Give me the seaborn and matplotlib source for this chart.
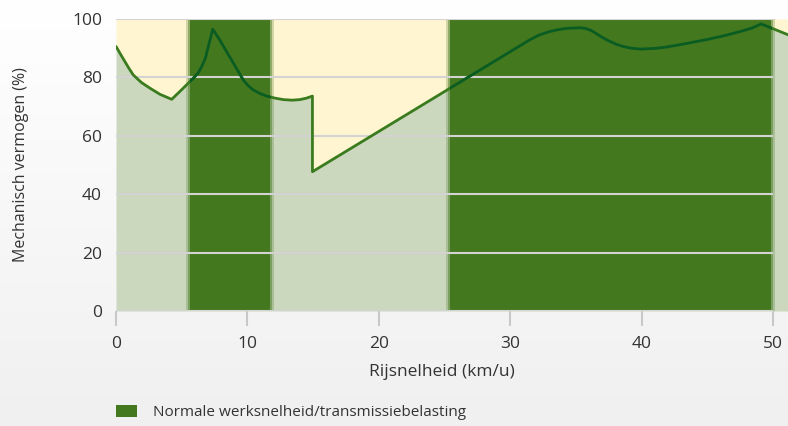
import numpy as np
import matplotlib
matplotlib.use("Agg")
import matplotlib.pyplot as plt
import seaborn as sns
from matplotlib.patches import Patch, Rectangle

# ---- data ----
speed = [0.0, 0.35, 0.68, 1.0, 1.32, 1.95, 2.59, 3.35, 4.24,
         5.0, 5.88, 6.25, 6.52, 6.8, 7.02, 7.2, 7.36,
         7.9, 8.42, 9.05, 9.69, 10.05, 10.45, 10.95, 11.47, 12.1, 12.73, 13.4, 14.0, 14.5, 14.95, 14.95,
         31.5, 32.2, 33.0, 33.6, 34.3, 35.3, 35.7, 36.1, 36.45, 36.8, 37.2, 37.6, 38.1, 38.6, 39.2, 39.9,
         40.9, 41.9, 43.4, 45.0, 46.3, 47.5, 48.4, 49.1, 50.1, 51.2]
power = [90.6, 87.9, 85.4, 83.0, 80.8, 78.2, 76.3, 74.2, 72.5,
         75.8, 79.7, 81.5, 83.7, 86.5, 90.5, 93.6, 96.5,
         92.8, 88.8, 84.0, 79.1, 77.2, 75.7, 74.5, 73.6, 72.9, 72.4, 72.2, 72.4, 72.9, 73.6, 47.7,
         92.9, 94.5, 95.7, 96.3, 96.8, 97.0, 96.8, 96.2, 95.3, 94.3, 93.2, 92.3, 91.3, 90.6, 90.0, 89.7,
         89.9, 90.4, 91.6, 93.0, 94.3, 95.7, 96.9, 98.3, 96.5, 94.5]
band_start = [5.6, 25.4]
band_end = [11.8, 49.9]
x_ticks = [0, 10, 20, 30, 40, 50]
y_ticks = [0, 20, 40, 60, 80, 100]
legend_label = "Normale werksnelheid/transmissiebelasting"
x_label = "Rijsnelheid (km/u)"
y_label = "Mechanisch vermogen (%)"

CREAM = "#fff5d0"
LIGHT = "#cbd8bd"
DARK = "#44781e"
LINE_LIGHT = "#3a7b1e"
LINE_DARK = "#0b5c22"
GRID = "#d3d3d3"
TEXT = "#333333"

sns.set_theme(style="white")
plt.rcParams["font.family"] = ["Open Sans", "DejaVu Sans"]

W, H = 788, 426
fig = plt.figure(figsize=(W / 100, H / 100), dpi=100)

# background gradient
bg = fig.add_axes([0, 0, 1, 1], zorder=-10)
grad = np.linspace(1.0, 0.0, 256).reshape(-1, 1)
cmap = matplotlib.colors.LinearSegmentedColormap.from_list("bg", ["#f0f0f0", "#ffffff"])
bg.imshow(grad, aspect="auto", cmap=cmap, extent=[0, 1, 0, 1])
bg.axis("off")

left, right, top, bottom = 116, 788, 19, 311
ax = fig.add_axes([left / W, 1 - bottom / H, (right - left) / W, (bottom - top) / H])
ax.patch.set_visible(False)
xmax = (right - left) / 13.14
ax.set_xlim(0, xmax)
ax.set_ylim(0, 100)

ax.fill_between(speed, power, 0, color=LIGHT, lw=0, zorder=1)
ax.fill_between(speed, power, 100, color=CREAM, lw=0, zorder=1)

for s, e in zip(band_start, band_end):
    ax.axvspan(s - 0.25, e + 0.25, color=DARK, alpha=0.25, lw=0, zorder=2)
    ax.axvspan(s - 0.1, e + 0.1, color=DARK, alpha=0.45, lw=0, zorder=2)
    ax.axvspan(s + 0.05, e - 0.05, color=DARK, lw=0, zorder=2)

ax.hlines(y_ticks, 0, 50, color=GRID, lw=1.5, zorder=3)

sns.lineplot(x=speed, y=power, sort=False, estimator=None, color=LINE_LIGHT,
             lw=2.0, ax=ax, zorder=4)
for s, e in zip(band_start, band_end):
    sns.lineplot(x=speed, y=power, sort=False, estimator=None, color=LINE_DARK,
                 lw=2.0, ax=ax, zorder=5)
    clip = Rectangle((s, -5), e - s, 110, transform=ax.transData)
    ax.lines[-1].set_clip_path(clip)

for sp in ax.spines.values():
    sp.set_visible(False)

ax.set_xticks(x_ticks)
ax.set_yticks(y_ticks)
ax.tick_params(axis="x", bottom=True, length=11, width=1.5, color="#c8c8c8",
               pad=7, labelsize=12.5, labelcolor=TEXT)
ax.tick_params(axis="y", left=False, length=0, pad=10, labelsize=12.5,
               labelcolor=TEXT)

ax.set_xlabel(x_label, fontsize=12.5, color=TEXT)
ax.xaxis.set_label_coords((441.5 - left) / (right - left), -(364 - bottom) / (bottom - top))
ax.set_ylabel(y_label, fontsize=11.5, color=TEXT)
ax.yaxis.set_label_coords(-(left - 29) / (right - left), 0.5)

ax.legend(handles=[Patch(facecolor=DARK, edgecolor="none")], labels=[legend_label],
          loc="center left", bbox_to_anchor=(left / W, 1 - 412.5 / H),
          bbox_transform=fig.transFigure, frameon=False, borderpad=0,
          borderaxespad=0, handlelength=1.37, handleheight=0.85,
          handletextpad=1.05, fontsize=11, labelcolor=TEXT)

fig.savefig("out.png", dpi=100)
